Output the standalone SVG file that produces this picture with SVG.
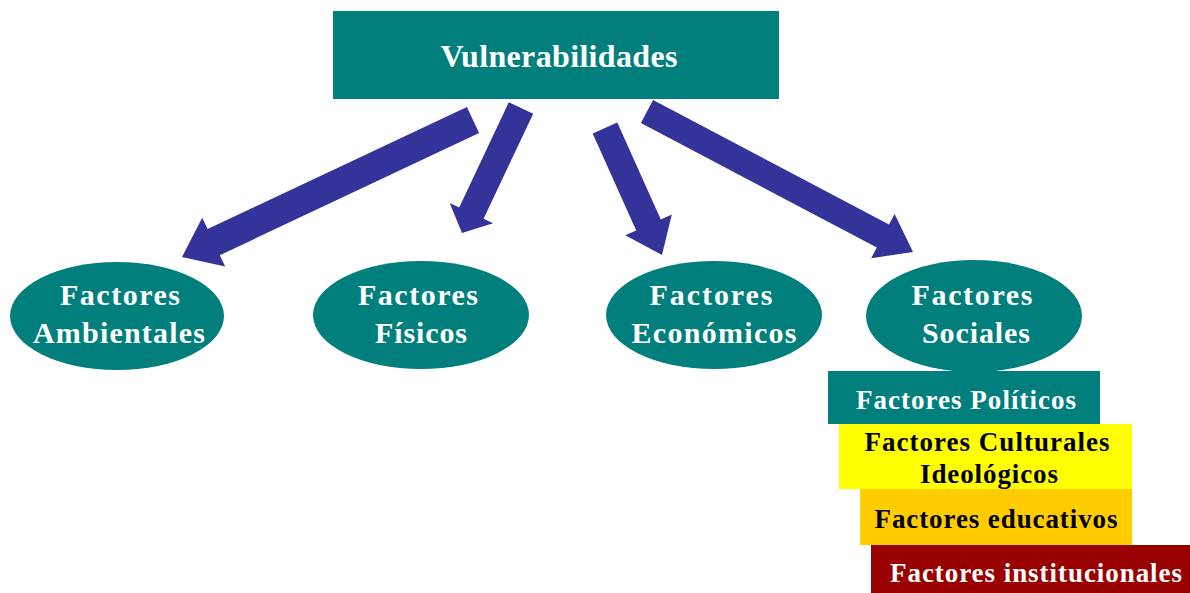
<svg xmlns="http://www.w3.org/2000/svg" width="1190" height="593" viewBox="0 0 1190 593">
  <style>
    .teal { fill: #007f7c; }
    .arrow { fill: #333399; }
    .lbl { font-family: "Liberation Serif", "Times New Roman", serif; font-weight: bold; text-anchor: middle; }
    .w { fill: #ffffff; }
    .k { fill: #000000; }
    .big { font-size: 32px; }
    .mid { font-size: 30px; }
    .sm { font-size: 27px; }
  </style>
  <rect width="1190" height="593" fill="#ffffff"/>

  <g id="connectors">
    <polygon class="arrow" points="466.9,106.9 207.6,229.0 202.2,217.7 182,257 225.2,266.5 219.8,255.2 479.1,133.1"/>
    <polygon class="arrow" points="508.8,102.3 459.2,207.4 449.7,202.9 462,233 493.1,223.3 483.6,218.8 533.2,113.7"/>
    <polygon class="arrow" points="592.7,133.5 636.2,230.4 625.2,235.3 662,255 671.8,214.5 660.8,219.4 617.3,122.5"/>
    <polygon class="arrow" points="653.1,100.0 889.0,224.6 894.6,214.0 913,252 871.2,258.2 876.8,247.6 640.9,123.0"/>
  </g>

  <g id="vulnerabilidades">
    <rect class="teal" x="333" y="11" width="446" height="88"/>
    <text class="lbl w big" x="559" y="67" textLength="237" lengthAdjust="spacing">Vulnerabilidades</text>
  </g>

  <g id="ambientales">
    <ellipse class="teal" cx="117" cy="316" rx="107" ry="54"/>
    <text class="lbl w mid" x="120" y="305" textLength="120" lengthAdjust="spacing">Factores</text>
    <text class="lbl w mid" x="119" y="343" textLength="172" lengthAdjust="spacing">Ambientales</text>
  </g>

  <g id="fisicos">
    <ellipse class="teal" cx="421" cy="315" rx="108" ry="54"/>
    <text class="lbl w mid" x="418" y="305" textLength="120" lengthAdjust="spacing">Factores</text>
    <text class="lbl w mid" x="421" y="343" textLength="92" lengthAdjust="spacing">Físicos</text>
  </g>

  <g id="economicos">
    <ellipse class="teal" cx="714" cy="315" rx="108" ry="54"/>
    <text class="lbl w mid" x="711" y="305" textLength="123" lengthAdjust="spacing">Factores</text>
    <text class="lbl w mid" x="714" y="343" textLength="165" lengthAdjust="spacing">Económicos</text>
  </g>

  <g id="sociales">
    <ellipse class="teal" cx="974" cy="316" rx="108" ry="56"/>
    <text class="lbl w mid" x="972" y="305" textLength="121" lengthAdjust="spacing">Factores</text>
    <text class="lbl w mid" x="976" y="343" textLength="108" lengthAdjust="spacing">Sociales</text>
  </g>

  <g id="politicos">
    <rect class="teal" x="828" y="371" width="272" height="53"/>
    <text class="lbl w sm" x="966" y="409" textLength="220" lengthAdjust="spacing">Factores Políticos</text>
  </g>

  <g id="culturales">
    <rect x="839" y="424" width="293" height="65" fill="#ffff00"/>
    <text class="lbl k sm" x="987" y="451" textLength="245" lengthAdjust="spacing">Factores Culturales</text>
    <text class="lbl k sm" x="989" y="483" textLength="138" lengthAdjust="spacing">Ideológicos</text>
  </g>

  <g id="educativos">
    <rect x="860" y="489" width="272" height="56" fill="#ffcc00"/>
    <text class="lbl k sm" x="996" y="528" textLength="243" lengthAdjust="spacing">Factores educativos</text>
  </g>

  <g id="institucionales">
    <rect x="871" y="545" width="319" height="48" fill="#990000"/>
    <text class="lbl w sm" x="1036" y="582" textLength="292" lengthAdjust="spacing">Factores institucionales</text>
  </g>
</svg>
